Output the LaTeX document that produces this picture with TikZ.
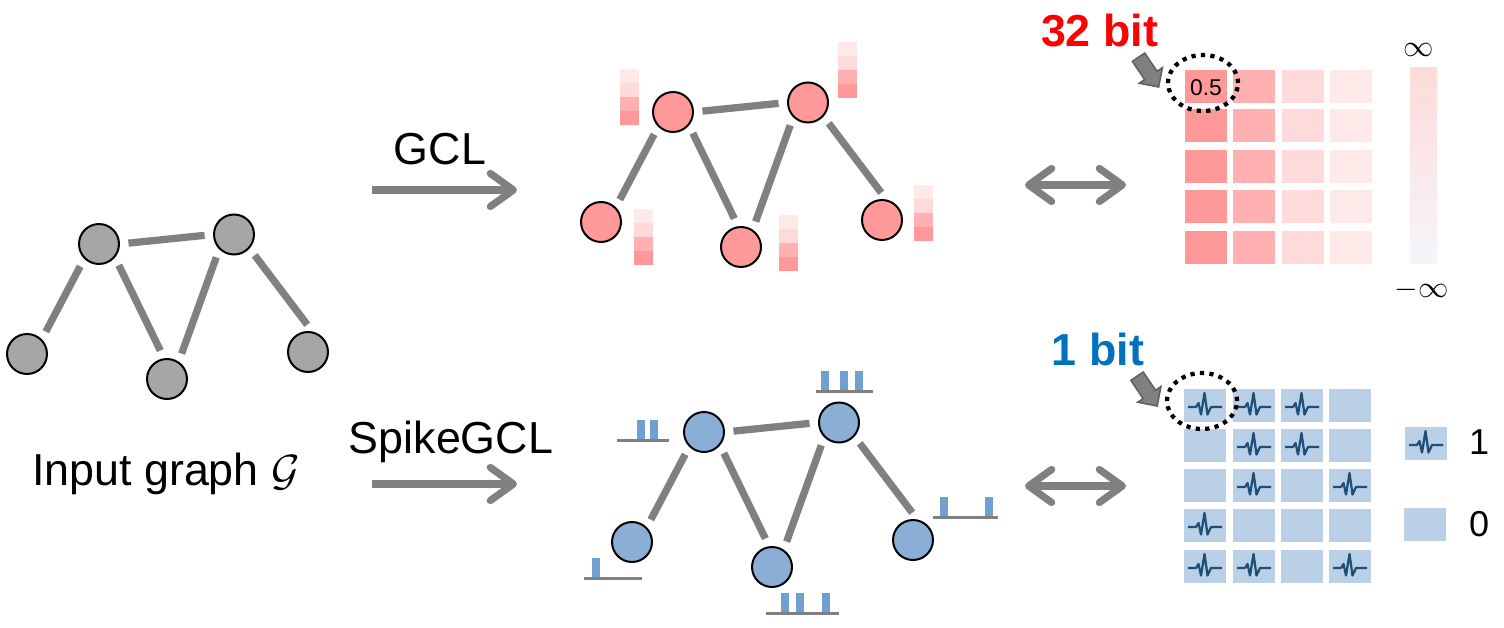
\documentclass[tikz,border=0pt]{standalone}
\usepackage{amsmath}
\usepackage{fontspec}
\setmainfont{Liberation Sans}
\usetikzlibrary{arrows.meta,shapes.geometric,shapes.arrows}
\definecolor{edgegray}{RGB}{128,128,128}
\definecolor{nodegray}{RGB}{166,166,166}
\definecolor{nodered}{RGB}{255,153,153}
\definecolor{nodeblue}{RGB}{138,174,214}
\definecolor{cellredA}{RGB}{255,153,153}
\definecolor{cellredB}{RGB}{255,176,176}
\definecolor{cellredC}{RGB}{255,218,218}
\definecolor{cellredD}{RGB}{255,233,233}
\definecolor{cellblue}{RGB}{185,208,231}
\definecolor{barblue}{RGB}{112,160,210}
\definecolor{spikeblue}{RGB}{31,78,121}
\definecolor{bitblue}{RGB}{0,112,192}
\definecolor{fatborder}{RGB}{95,95,95}
\definecolor{barend}{RGB}{245,245,251}

\begin{document}
\begin{tikzpicture}[
  x=0.02cm,y=-0.02cm,
  gn/.style={draw=black,circle,line width=0.04cm,minimum size=0.8cm,inner sep=0pt},
  edge/.style={edgegray,line width=0.145cm,shorten <=0.17cm,shorten >=0.17cm},
  flow/.style={edgegray,line width=0.145cm,-{Straight Barb[length=0.46cm,width=0.66cm,round]}},
  both/.style={edgegray,line width=0.145cm,{Straight Barb[length=0.46cm,width=0.66cm,round]}-{Straight Barb[length=0.46cm,width=0.66cm,round]}},
  big/.style={font=\fontsize{25.5}{30}\selectfont,anchor=base,inner sep=0pt},
  bit/.style={font=\fontsize{25.5}{30}\selectfont\bfseries,anchor=base,inner sep=0pt},
  num/.style={font=\fontsize{20.5}{24}\selectfont,anchor=base,inner sep=0pt},
  inf/.style={font=\fontsize{17.28}{20}\selectfont,anchor=base,inner sep=0pt},
  stackcell/.style={minimum width=0.38cm,minimum height=0.28cm,inner sep=0pt},
  cell/.style={minimum width=0.84cm,minimum height=0.66cm,inner sep=0pt},
  bar/.style={fill=barblue,anchor=south,minimum width=0.15cm,minimum height=0.38cm,inner sep=0pt},
  base/.style={edgegray,line width=0.06cm},
  fat/.style={single arrow,draw=fatborder,fill=edgegray,line width=0.03cm,rotate=-56,minimum height=0.72cm,single arrow head extend=0.13cm,inner xsep=0pt,inner ysep=0.135cm},
  ring/.style={draw=black,ellipse,line width=0.085cm,dash pattern=on 0.085cm off 0.105cm,minimum width=1.4cm,minimum height=1.12cm,inner sep=0pt},
  spike/.pic={\draw[spikeblue,line width=0.045cm,line join=round] (-17,1.5) -- (-9,1.5) -- (-6.5,-2.5) -- (-4,9) -- (-0.5,-12.5) -- (2.5,9) -- (6,1.5) -- (17,1.5);}
]
\useasboundingbox (0,0) rectangle (1504,628);

% Graphs
\foreach \g/\dx/\dy/\col in {g/0/0/nodegray,r/574/-132/nodered,b/605/188/nodeblue}{
  \begin{scope}[shift={(\dx,\dy)}]
    \node[gn,fill=\col] (\g a) at (99,244) {};
    \node[gn,fill=\col] (\g b) at (234,234.5) {};
    \node[gn,fill=\col] (\g c) at (27,354) {};
    \node[gn,fill=\col] (\g d) at (167,379) {};
    \node[gn,fill=\col] (\g e) at (308,352) {};
  \end{scope}
  \draw[edge] (\g a.0) -- (\g b.180);
  \draw[edge] (\g a.225) -- (\g c.45);
  \draw[edge] (\g a.-40) -- (\g d.98);
  \draw[edge] (\g b.225) -- (\g d.56);
  \draw[edge] (\g b.-42) -- (\g e.78);
}

% Labels on the left
\node[big] (input) at (166,485) {Input graph $\mathcal{G}$};
\node[big] (gcl) at (440,165) {GCL};
\node[big] (spikegcl) at (451,453) {SpikeGCL};

\coordinate (gclfrom) at (372,190);
\coordinate (gclto) at (517,190);
\coordinate (spikefrom) at (372,484);
\coordinate (spiketo) at (517,484);
\draw[flow] (gclfrom) -- (gclto);
\draw[flow] (spikefrom) -- (spiketo);

% Stacks beside the red nodes
\foreach \sx/\sy [count=\i] in {629.5/69,847.5/42,643.5/209,788.5/215,923.5/185}{
  \foreach \col [count=\j] in {cellredD,cellredC,cellredB,cellredA}{
    \node[stackcell,fill=\col] (st\i-\j) at (\sx,{\sy+14*\j-7}) {};
  }
}

% Spike trains beside the blue nodes
\draw[base] (617,440) coordinate (ta) -- (669,440) coordinate (tb);
\draw[base] (816,391) coordinate (tc) -- (873,391) coordinate (td);
\draw[base] (584,578) coordinate (te) -- (642,578) coordinate (tf);
\draw[base] (766,613) coordinate (tg) -- (839,613) coordinate (th);
\draw[base] (933,517) coordinate (ti) -- (998,517) coordinate (tj);
\foreach \x/\y [count=\i] in {641/439,654/439,825/390,844/390,859/390,596/577,785/612,800/612,826/612,944/516,989/516}{
  \node[bar] (sp\i) at (\x,\y) {};
}

% Red matrix
\foreach \y [count=\r] in {86.5,125.5,166.5,206.5,247.5}{
  \foreach \x/\col [count=\c] in {1206/cellredA,1254/cellredB,1303/cellredC,1351/cellredD}{
    \node[cell,fill=\col] (rc\r-\c) at (\x,\y) {};
  }
}
\node[font=\fontsize{13}{15}\selectfont,anchor=base,inner sep=0pt] (val) at (1206,96) {0.5};

% Blue matrix
\foreach \y [count=\r] in {405.5,445.5,485.5,525.5,566.5}{
  \foreach \x [count=\c] in {1205,1254,1302,1350}{
    \node[cell,fill=cellblue] (bc\r-\c) at (\x,\y) {};
  }
}
\foreach \r/\c in {1/1,1/2,1/3,2/2,2/3,3/2,3/4,4/1,5/1,5/2,5/4}{
  \pic at (bc\r-\c) {spike};
}

% Colour bar
\node[minimum width=0.54cm,minimum height=3.94cm,inner sep=0pt,top color=cellredC,bottom color=barend] (cbar) at (1423.5,165.5) {};
\node[inf] (top) at (1419,57) {$\infty$};
\node[inf] (bot) at (1421.5,297) {$-\infty$};

% Legend
\node[cell,fill=cellblue] (one) at (1426,443.5) {};
\pic at (one) {spike};
\node[cell,fill=cellblue] (zero) at (1425,524.5) {};
\node[num] (onetxt) at (1479,454) {1};
\node[num] (zerotxt) at (1479,536) {0};

% Double arrows
\coordinate (upl) at (1025,185);
\coordinate (upr) at (1126,185);
\coordinate (lol) at (1025,486);
\coordinate (lor) at (1126,486);
\draw[both] (upl) -- (upr);
\draw[both] (lol) -- (lor);

% Bit callouts
\node[bit,red] (bit32) at (1099.5,47) {32 bit};
\node[bit,bitblue] (bit1) at (1098,365) {1 bit};
\node[fat] (fat32) at (1146.5,69) {};
\node[fat] (fat1) at (1145,388) {};
\node[ring] (ring32) at (1203,83) {};
\node[ring] (ring1) at (1202,401) {};
\end{tikzpicture}
\end{document}
